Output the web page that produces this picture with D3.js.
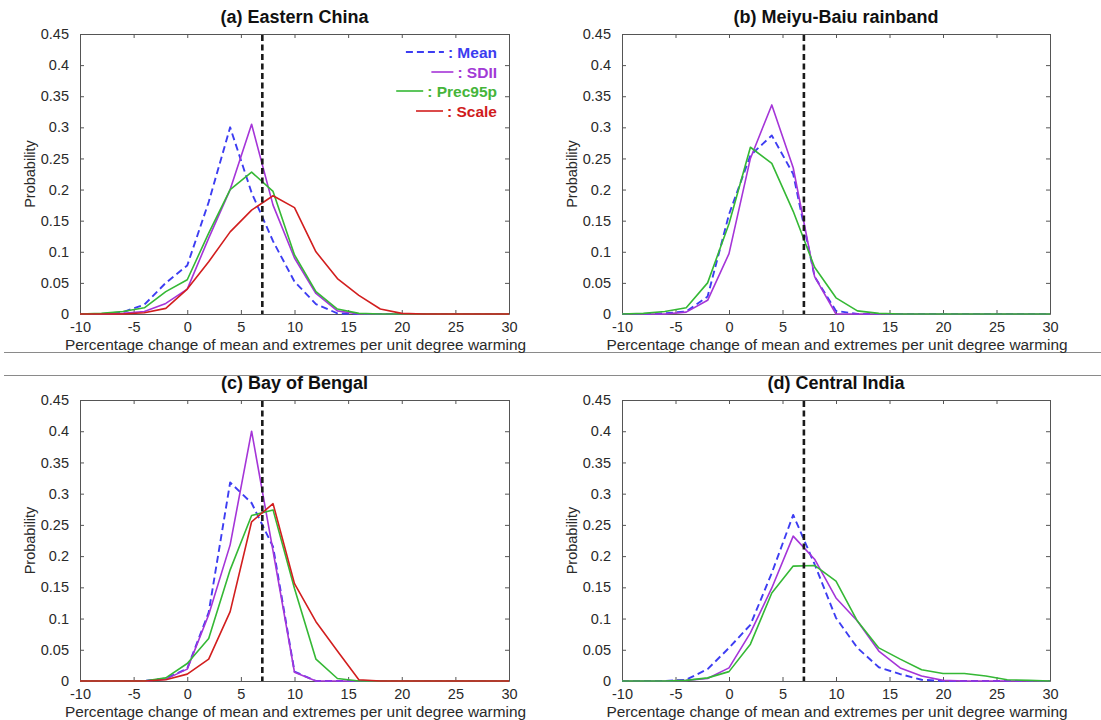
<!DOCTYPE html>
<html>
<head>
<meta charset="utf-8">
<script src="https://cdn.jsdelivr.net/npm/d3@7"></script>
<style>
  body { margin: 0; background: #fff; }
  svg { display: block; font-family: "Liberation Sans", Arial, Helvetica, sans-serif; }
</style>
</head>
<body>
<div id="chart"></div>
<script>
// bin centres (percent change per K)
const xVals = [-10, -8, -6, -4, -2, 0, 2, 4, 6, 8, 10, 12, 14, 16, 18, 20, 22, 24, 26, 28, 30];
const xTicks = [-10, -5, 0, 5, 10, 15, 20, 25, 30];
const yTicks = [0, 0.05, 0.1, 0.15, 0.2, 0.25, 0.3, 0.35, 0.4, 0.45];
const refLine = 7; // Clausius-Clapeyron rate

const seriesNames = ["Mean", "SDII", "Prec95p", "Scale"];
const seriesColors = ["#3d3df2", "#a535d8", "#35b835", "#d21e1e"];
const legendColors = ["#3c3cf0", "#a23ad6", "#45b53a", "#d01c1c"];

const panelTitles = ["(a) Eastern China", "(b) Meiyu-Baiu rainband", "(c) Bay of Bengal", "(d) Central India"];

// (a) Eastern China
const aMean    = [0, 0, 0.003, 0.015, 0.05, 0.078, 0.18, 0.30, 0.195, 0.117, 0.052, 0.016, 0.001, 0, 0, 0, 0, 0, 0, 0, 0];
const aSDII    = [0, 0, 0.001, 0.004, 0.017, 0.04, 0.122, 0.20, 0.305, 0.175, 0.09, 0.033, 0.005, 0, 0, 0, 0, 0, 0, 0, 0];
const aPrec95p = [0, 0.001, 0.004, 0.01, 0.036, 0.055, 0.13, 0.20, 0.228, 0.197, 0.095, 0.036, 0.008, 0.001, 0, 0, 0, 0, 0, 0, 0];
const aScale   = [0, 0, 0, 0.002, 0.009, 0.04, 0.084, 0.132, 0.167, 0.19, 0.171, 0.10, 0.057, 0.03, 0.008, 0.001, 0, 0, 0, 0, 0];

// (b) Meiyu-Baiu rainband
const bMean    = [0, 0, 0.001, 0.004, 0.028, 0.16, 0.255, 0.287, 0.225, 0.06, 0.005, 0, 0, 0, 0, 0, 0, 0, 0, 0, 0];
const bSDII    = [0, 0, 0, 0.003, 0.022, 0.097, 0.25, 0.336, 0.235, 0.06, 0, 0, 0, 0, 0, 0, 0, 0, 0, 0, 0];
const bPrec95p = [0, 0.001, 0.004, 0.01, 0.05, 0.145, 0.268, 0.242, 0.165, 0.075, 0.026, 0.005, 0.001, 0, 0, 0, 0, 0, 0, 0, 0];

// (c) Bay of Bengal
const cMean    = [0, 0, 0, 0, 0.004, 0.02, 0.11, 0.318, 0.285, 0.215, 0.015, 0, 0, 0, 0, 0, 0, 0, 0, 0, 0];
const cSDII    = [0, 0, 0, 0, 0.003, 0.019, 0.106, 0.218, 0.40, 0.208, 0.014, 0, 0, 0, 0, 0, 0, 0, 0, 0, 0];
const cPrec95p = [0, 0, 0, 0, 0.005, 0.028, 0.068, 0.178, 0.265, 0.274, 0.148, 0.035, 0.004, 0, 0, 0, 0, 0, 0, 0, 0];
const cScale   = [0, 0, 0, 0, 0.002, 0.011, 0.035, 0.111, 0.255, 0.284, 0.156, 0.095, 0.048, 0.002, 0, 0, 0, 0, 0, 0, 0];

// (d) Central India
const dMean    = [0, 0, 0, 0.002, 0.019, 0.053, 0.09, 0.173, 0.266, 0.187, 0.101, 0.053, 0.022, 0.011, 0.002, 0, 0, 0, 0, 0, 0];
const dSDII    = [0, 0, 0, 0.001, 0.004, 0.021, 0.077, 0.149, 0.232, 0.195, 0.133, 0.096, 0.048, 0.021, 0.008, 0.001, 0, 0, 0, 0, 0];
const dPrec95p = [0, 0, 0, 0.001, 0.005, 0.015, 0.059, 0.141, 0.184, 0.185, 0.16, 0.096, 0.053, 0.035, 0.018, 0.012, 0.012, 0.008, 0.002, 0.001, 0];

const panelSeries = [
  [aMean, aSDII, aPrec95p, aScale],
  [bMean, bSDII, bPrec95p, null],
  [cMean, cSDII, cPrec95p, cScale],
  [dMean, dSDII, dPrec95p, null]
];

const W = 1101, H = 720;
const svg = d3.select("#chart").append("svg").attr("width", W).attr("height", H);

// panel frames (left, top, right, bottom of the axes box)
const frames = [
  { x0: 80, y0: 34, x1: 509, y1: 314 },
  { x0: 622, y0: 34, x1: 1050, y1: 314 },
  { x0: 80, y0: 400, x1: 509, y1: 681 },
  { x0: 622, y0: 400, x1: 1050, y1: 681 }
];

// separator lines between rows
svg.append("line").attr("x1", 4).attr("x2", W).attr("y1", 352.5).attr("y2", 352.5)
  .attr("stroke", "#8a8a8a").attr("stroke-width", 1);
svg.append("line").attr("x1", 4).attr("x2", W).attr("y1", 375.5).attr("y2", 375.5)
  .attr("stroke", "#8a8a8a").attr("stroke-width", 1);

const yFmt = d => d === 0 ? "0" : String(+d.toFixed(2));
const xFmt = d => String(d); // plain hyphen like MATLAB

frames.forEach((f, i) => {
  const x = d3.scaleLinear().domain([-10, 30]).range([f.x0, f.x1]);
  const y = d3.scaleLinear().domain([0, 0.45]).range([f.y1, f.y0]);
  const g = svg.append("g");

  // axes (MATLAB-style inward ticks, box on)
  const axB = g.append("g").attr("transform", `translate(0,${f.y1})`)
    .call(d3.axisBottom(x).tickValues(xTicks).tickFormat(xFmt).tickSizeInner(-4).tickSizeOuter(0).tickPadding(7.5));
  const axL = g.append("g").attr("transform", `translate(${f.x0},0)`)
    .call(d3.axisLeft(y).tickValues(yTicks).tickFormat(yFmt).tickSizeInner(-4).tickSizeOuter(0).tickPadding(11));
  const axT = g.append("g").attr("transform", `translate(0,${f.y0})`)
    .call(d3.axisTop(x).tickValues(xTicks).tickSizeInner(-4).tickSizeOuter(0).tickFormat(""));
  const axR = g.append("g").attr("transform", `translate(${f.x1},0)`)
    .call(d3.axisRight(y).tickValues(yTicks).tickSizeInner(-4).tickSizeOuter(0).tickFormat(""));
  [axB, axL, axT, axR].forEach(a => {
    a.selectAll("path.domain").attr("stroke", "#555").attr("stroke-width", 1);
    a.selectAll(".tick line").attr("stroke", "#555");
    a.selectAll("text").attr("font-size", 14.5).attr("fill", "#2a2a2a");
  });

  // titles and labels
  g.append("text").attr("x", (f.x0 + f.x1) / 2).attr("y", f.y0 - 11)
    .attr("text-anchor", "middle").attr("font-size", 18).attr("font-weight", "bold")
    .attr("fill", "#111").text(panelTitles[i]);
  g.append("text").attr("x", (f.x0 + f.x1) / 2 + 1).attr("y", f.y1 + 35.5)
    .attr("text-anchor", "middle").attr("font-size", 15.4).attr("fill", "#2a2a2a")
    .text("Percentage change of mean and extremes per unit degree warming");
  g.append("text")
    .attr("transform", `translate(${f.x0 - 45},${(f.y0 + f.y1) / 2}) rotate(-90)`)
    .attr("text-anchor", "middle").attr("font-size", 14.5).attr("fill", "#2a2a2a")
    .text("Probability");

  // curves
  const line = d3.line().x((d, k) => x(xVals[k])).y(d => y(d));
  panelSeries[i].forEach((vals, s) => {
    if (!vals) return;
    g.append("path").datum(vals)
      .attr("d", line)
      .attr("fill", "none")
      .attr("stroke", seriesColors[s])
      .attr("stroke-width", s === 0 ? 1.9 : 1.6)
      .attr("stroke-dasharray", s === 0 ? "7,4" : null)
      .attr("stroke-linejoin", "round");
  });

  // reference rate line
  g.append("line").attr("x1", x(refLine)).attr("x2", x(refLine))
    .attr("y1", f.y0 + 1).attr("y2", f.y1)
    .attr("stroke", "#1a1a1a").attr("stroke-width", 2.6).attr("stroke-dasharray", "6,3.5");

  // legend only in panel (a)
  if (i === 0) {
    const right = f.x1 - 12;
    const rowsY = [52, 72, 91, 111];
    const sampleLen = [38, 22, 27, 27];
    seriesNames.forEach((name, s) => {
      const t = g.append("text").attr("x", right).attr("y", rowsY[s] + 5.5)
        .attr("text-anchor", "end").attr("font-size", 15.5).attr("font-weight", "bold")
        .attr("fill", legendColors[s]).text(": " + name);
      const w = t.node().getComputedTextLength();
      const xe = right - w - 4;
      g.append("line").attr("x1", xe - sampleLen[s]).attr("x2", xe)
        .attr("y1", rowsY[s]).attr("y2", rowsY[s])
        .attr("stroke", seriesColors[s]).attr("stroke-width", s === 0 ? 1.9 : 1.6)
        .attr("stroke-dasharray", s === 0 ? "7,4" : null);
    });
  }
});
</script>
</body>
</html>
